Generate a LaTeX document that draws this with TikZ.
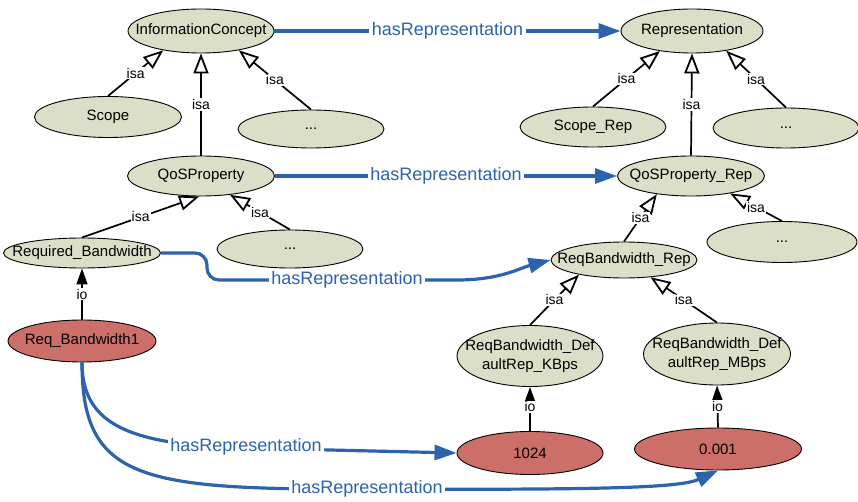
\documentclass[tikz,border=0pt]{standalone}
\usepackage{fontspec}
\setmainfont{Liberation Sans}
\usetikzlibrary{shapes.geometric,arrows.meta}

\definecolor{conceptfill}{HTML}{DCDFC8}
\definecolor{instfill}{HTML}{CD6F69}
\definecolor{relblue}{HTML}{2D62AC}

\tikzset{
  concept/.style={ellipse, draw=black, line width=0.9pt, fill=conceptfill, inner sep=0pt},
  instance/.style={concept, fill=instfill},
  every label/.style={font=\fontsize{15}{19}\selectfont, align=center, inner sep=0pt},
  isa/.style={draw=black, line width=1.7pt,
    -{Triangle[open, fill=white, length=20pt, width=15pt, line width=1.8pt]}},
  io/.style={draw=black, line width=1.7pt, -{Triangle[length=16pt, width=11pt]}},
  rel/.style={draw=relblue, line width=3.2pt, -{Triangle[length=22pt, width=15pt]}},
  edgelbl/.style={fill=white, inner sep=1pt, font=\fontsize{14}{14}\selectfont},
  rellbl/.style={fill=white, text=relblue, inner sep=2.5pt, font=\fontsize{18}{18}\selectfont},
}

\begin{document}
\begin{tikzpicture}[x=1pt, y=-1pt]
\useasboundingbox (0,0) rectangle (858,502);

% concept hierarchy (left)
\node[concept, minimum width=146pt, minimum height=44pt, label=center:InformationConcept] (ic) at (201,31) {};
\node[concept, minimum width=147pt, minimum height=41pt, label=center:Scope] (scope) at (108,117) {};
\node[concept, minimum width=146pt, minimum height=38pt, label=center:...] (dotsA) at (311,129) {};
\node[concept, minimum width=147pt, minimum height=40pt, label=center:QoSProperty] (qos) at (201,176) {};
\node[concept, minimum width=157pt, minimum height=30pt, label=center:Required\_Bandwidth] (rb) at (82,253) {};
\node[concept, minimum width=146pt, minimum height=38pt, label=center:...] (dotsB) at (290,249) {};
\node[instance, minimum width=148pt, minimum height=42pt, label=center:Req\_Bandwidth1] (r1) at (82,341) {};

% representation hierarchy (right)
\node[concept, minimum width=142pt, minimum height=44pt, label=center:Representation] (rep) at (692,31) {};
\node[concept, minimum width=146pt, minimum height=40pt, label=center:Scope\_Rep] (scoperep) at (593,127) {};
\node[concept, minimum width=146pt, minimum height=40pt, label=center:...] (dotsC) at (786,128) {};
\node[concept, minimum width=147pt, minimum height=40pt, label=center:QoSProperty\_Rep] (qosrep) at (691,176) {};
\node[concept, minimum width=150pt, minimum height=41pt, label=center:...] (dotsD) at (782,242) {};
\node[concept, minimum width=146pt, minimum height=36pt, label=center:ReqBandwidth\_Rep] (rbrep) at (624,260) {};
\node[concept, minimum width=146pt, minimum height=61pt, label={center:ReqBandwidth\_Def\\aultRep\_KBps}] (kbps) at (530,356) {};
\node[concept, minimum width=147pt, minimum height=62pt, label={center:ReqBandwidth\_Def\\aultRep\_MBps}] (mbps) at (717,354) {};
\node[instance, minimum width=146pt, minimum height=43pt, label=center:1024] (v1024) at (530,453) {};
\node[instance, minimum width=167pt, minimum height=42pt, label=center:0.001] (v0001) at (718,449) {};

% isa links
\draw[isa] (scope.north) -- node[edgelbl]{isa} (ic.207);
\draw[isa] (qos.north) -- node[edgelbl]{isa} (ic.south);
\draw[isa] (dotsA.north) -- node[edgelbl]{isa} (ic.-27);
\draw[isa] (rb.north) -- node[edgelbl]{isa} (qos.-95);
\draw[isa] (dotsB.north) -- node[edgelbl]{isa} (qos.-33);
\draw[isa] (scoperep.north) -- node[edgelbl]{isa} (rep.212);
\draw[isa] (qosrep.north) -- node[edgelbl]{isa} (rep.south);
\draw[isa] (dotsC.north) -- node[edgelbl]{isa} (rep.-30);
\draw[isa] (rbrep.north) -- node[edgelbl]{isa} (qosrep.208);
\draw[isa] (dotsD.north) -- node[edgelbl]{isa} (qosrep.-24);
\draw[isa] (kbps.north) -- node[edgelbl]{isa} (rbrep.198);
\draw[isa] (mbps.north) -- node[edgelbl]{isa} (rbrep.-33);

% instance-of links
\draw[io] (r1.north) -- node[edgelbl]{io} (rb.south);
\draw[io] (v1024.north) -- node[edgelbl, pos=0.55]{io} (kbps.south);
\draw[io] (v0001.north) -- node[edgelbl, pos=0.5]{io} (mbps.south);

% hasRepresentation links
\draw[rel] (ic.east) -- node[rellbl]{hasRepresentation} (rep.west);
\draw[rel] (qos.east) -- node[rellbl]{hasRepresentation} (qosrep.west);
\draw[rel, rounded corners=12pt] (rb.east) -- (207,253) -- (207,280) -- (445,280)
  .. controls (500,280) and (520,268) .. (rbrep.west);
\node[rellbl] (lblA) at (347,280) {hasRepresentation};
\draw[rel] (r1.south) .. controls (82,425) and (130,445) .. (246,448) -- (v1024.west);
\node[rellbl] (lblB) at (246,447) {hasRepresentation};
\draw[rel] (r1.south) .. controls (82,480) and (140,490) .. (367,489)
  .. controls (600,490) and (680,488) .. (v0001.south);
\node[rellbl] (lblC) at (367,489) {hasRepresentation};
\end{tikzpicture}
\end{document}
